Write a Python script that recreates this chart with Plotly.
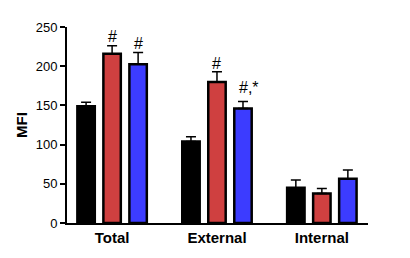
import plotly.graph_objects as go

categories = ["Total", "External", "Internal"]
black_vals = [149, 104, 45]
black_err = [5, 6, 10]
red_vals = [216, 180, 37.5]
red_err = [10, 13, 6.5]
blue_vals = [202.5, 146, 56.5]
blue_err = [15, 9, 11]
series_colors = ["#000000", "#CF4040", "#3C3CFF"]

# significance labels: (category, series index, text, y value)
sig_labels = [
    ("Total", 1, "#", 238),
    ("Total", 2, "#", 229),
    ("External", 1, "#", 204),
    ("External", 2, "#,*", 173),
]

fig = go.Figure()
series = [(black_vals, black_err), (red_vals, red_err), (blue_vals, blue_err)]
names = ["Control", "Treatment A", "Treatment B"]
for i, ((vals, errs), col) in enumerate(zip(series, series_colors)):
    fig.add_trace(go.Bar(
        x=categories, y=vals, name=names[i],
        marker=dict(color=col, line=dict(color="black", width=2.5)),
        error_y=dict(type="data", array=errs, arrayminus=[0]*len(errs),
                     symmetric=False, color="black", thickness=1.5, width=5),
        offsetgroup=str(i),
    ))

slot = 0.248
for cat, si, txt, yv in sig_labels:
    xi = categories.index(cat) + (si - 1) * slot
    fig.add_annotation(x=xi, y=yv, xref="x", yref="y", text=txt,
                       showarrow=False, font=dict(family="Liberation Sans, Arial", size=16, color="black"),
                       xanchor="left" if "*" in txt else "center", xshift=-6 if "*" in txt else 0)

fig.update_layout(
    width=410, height=258,
    margin=dict(l=59, r=50, t=15, b=43),
    paper_bgcolor="white", plot_bgcolor="white",
    showlegend=False,
    barmode="group", bargap=0.256, bargroupgap=0.33,
    font=dict(family="Liberation Sans, Arial", color="black"),
)
fig.update_xaxes(
    range=[-0.43, 2.44], showline=True, linecolor="black", linewidth=2,
    ticks="", showgrid=False, zeroline=False,
    tickfont=dict(size=15, family="Liberation Sans, Arial"),
    tickprefix="<b>", ticksuffix="</b>",
)
fig.update_yaxes(
    range=[0, 250], tickvals=[0, 50, 100, 150, 200, 250],
    showline=True, linecolor="black", linewidth=2,
    ticks="outside", ticklen=5, tickwidth=2, tickcolor="black",
    showgrid=False, zeroline=False,
    tickfont=dict(size=13, family="Liberation Sans, Arial"),
    title=dict(text="<b>MFI</b>", font=dict(size=15), standoff=4),
)

fig.write_html("out.html")
